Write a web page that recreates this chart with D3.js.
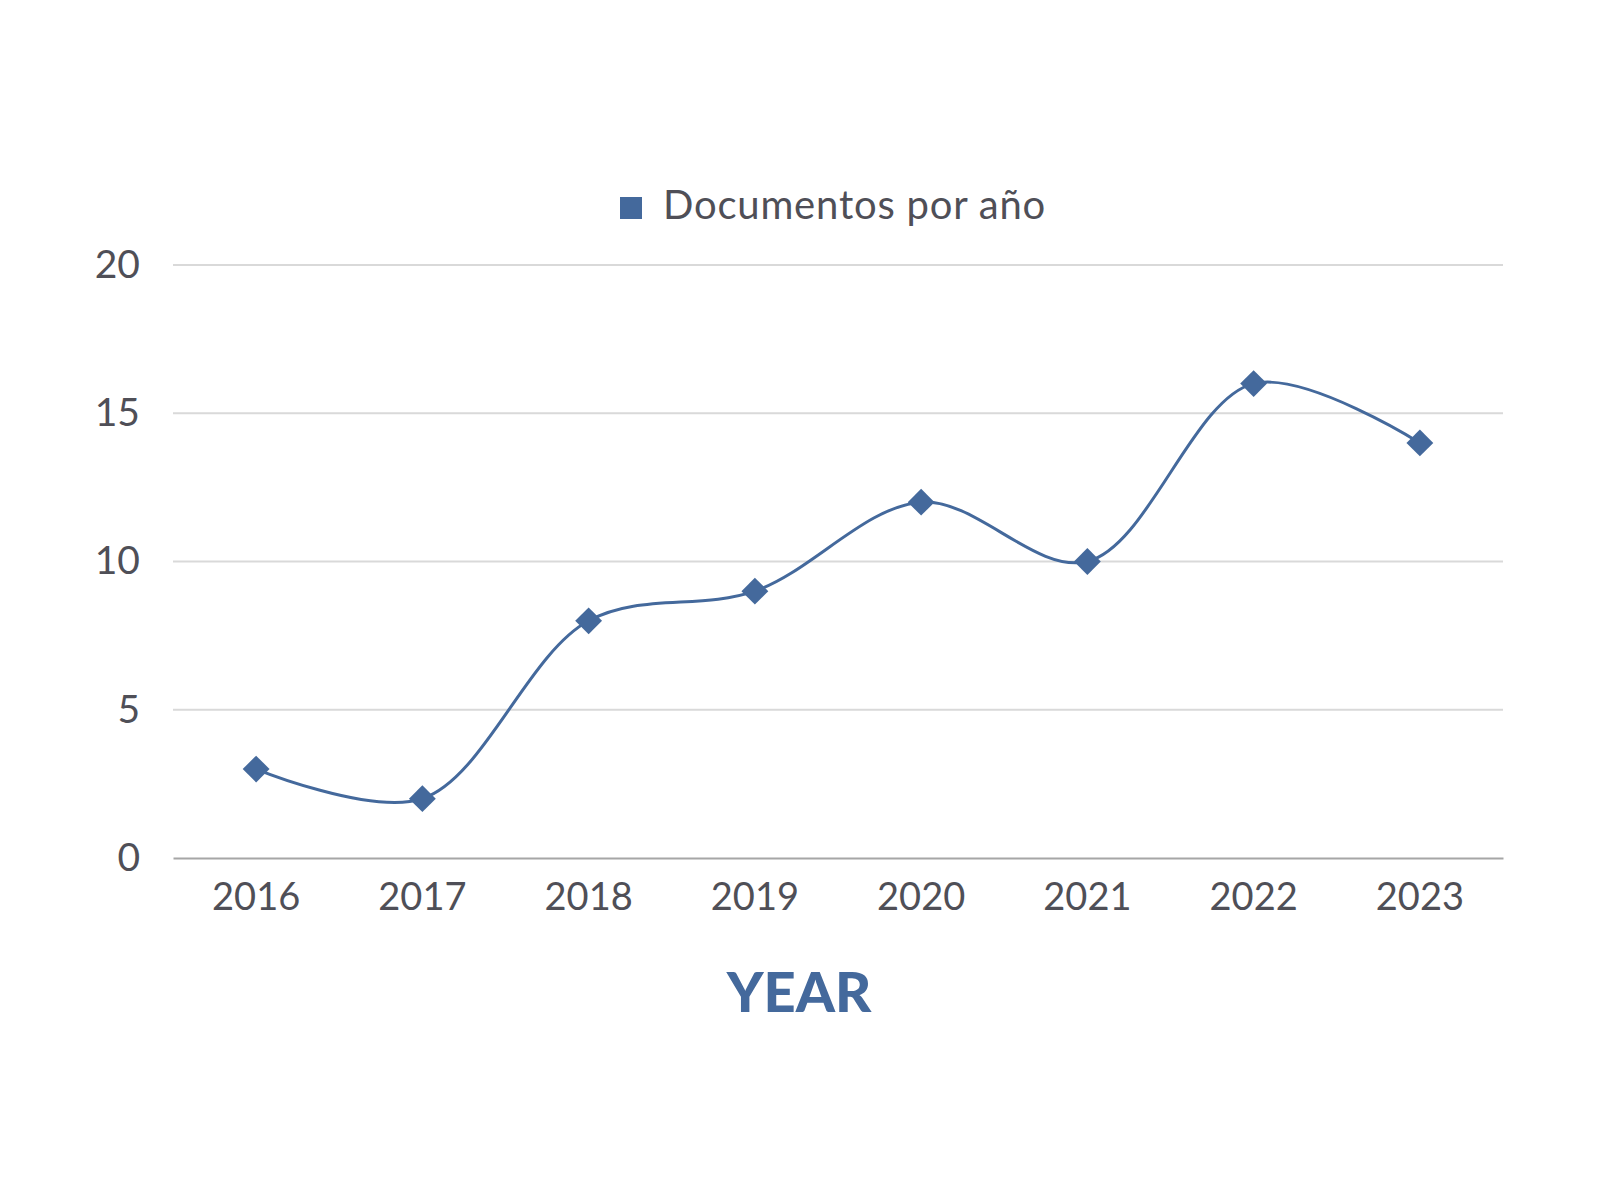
<!DOCTYPE html>
<html>
<head>
<meta charset="utf-8">
<script src="https://cdn.jsdelivr.net/npm/d3@7"></script>
<style>
  body { margin: 0; background: #fff; }
</style>
</head>
<body>
<div id="chart"></div>
<script>
const years = ["2016", "2017", "2018", "2019", "2020", "2021", "2022", "2023"];
const documentos = [3, 2, 8, 9, 12, 10, 16, 14];
const yTicks = [0, 5, 10, 15, 20];
const seriesName = "Documentos por año";
const axisTitle = "YEAR";

function main() {
    const canvasWidth = 1600;
    const canvasHeight = 1200;
    const blue = "#44699c";
    const textColor = "#4f4f57";
    const font = "Lato, 'Open Sans', sans-serif";

    const plot = { left: 173, right: 1503, top: 265, bottom: 858 };

    const svg = d3.select("#chart").append("svg")
        .attr("width", canvasWidth)
        .attr("height", canvasHeight);

    const xScale = d3.scaleBand()
        .domain(years)
        .range([plot.left, plot.right]);

    const yScale = d3.scaleLinear()
        .domain([0, 20])
        .range([plot.bottom, plot.top]);

    // gridlines
    svg.append("g")
        .selectAll("line")
        .data(yTicks.filter(d => d > 0))
        .join("line")
        .attr("x1", plot.left)
        .attr("x2", plot.right)
        .attr("y1", d => yScale(d))
        .attr("y2", d => yScale(d))
        .attr("stroke", "#d9d9d9")
        .attr("stroke-width", 2);

    // y axis labels
    const yAxis = svg.append("g")
        .attr("transform", "translate(" + (plot.left - 33) + ",0)")
        .call(d3.axisLeft(yScale).tickValues(yTicks).tickSize(0).tickPadding(0));
    yAxis.select(".domain").remove();
    yAxis.selectAll("text")
        .attr("font-family", font)
        .attr("font-size", "39px")
        .attr("fill", textColor);

    // x axis
    const xAxis = svg.append("g")
        .attr("transform", "translate(0," + plot.bottom + ")")
        .call(d3.axisBottom(xScale).tickSize(0).tickPadding(25));
    xAxis.select(".domain")
        .attr("stroke", "#a6a6a6")
        .attr("stroke-width", 2);
    xAxis.selectAll("text")
        .attr("font-family", font)
        .attr("font-size", "38px")
        .attr("fill", textColor);

    // axis title
    svg.append("text")
        .attr("x", 799)
        .attr("y", 1012)
        .attr("text-anchor", "middle")
        .attr("font-family", font)
        .attr("font-weight", "900")
        .attr("font-size", "56px")
        .attr("fill", blue)
        .text(axisTitle);

    // legend
    svg.append("rect")
        .attr("x", 620)
        .attr("y", 197)
        .attr("width", 22)
        .attr("height", 22)
        .attr("fill", blue);
    svg.append("text")
        .attr("x", 663)
        .attr("y", 219)
        .attr("font-family", font)
        .attr("font-size", "40px")
        .attr("letter-spacing", "0.8px")
        .attr("fill", textColor)
        .text(seriesName);

    const data = years.map((y, i) => ({ year: y, value: documentos[i] }));

    const line = d3.line()
        .x(d => xScale(d.year) + xScale.bandwidth() / 2)
        .y(d => yScale(d.value))
        .curve(d3.curveCatmullRom.alpha(0.5));

    svg.append("path")
        .datum(data)
        .attr("fill", "none")
        .attr("stroke", blue)
        .attr("stroke-width", 3)
        .attr("d", line);

    svg.append("g")
        .selectAll("path")
        .data(data)
        .join("path")
        .attr("d", d3.symbol().type(d3.symbolSquare).size(360))
        .attr("transform", d => "translate(" + (xScale(d.year) + xScale.bandwidth() / 2) + "," + yScale(d.value) + ") rotate(45)")
        .attr("fill", blue);
}
main();
</script>
</body>
</html>
